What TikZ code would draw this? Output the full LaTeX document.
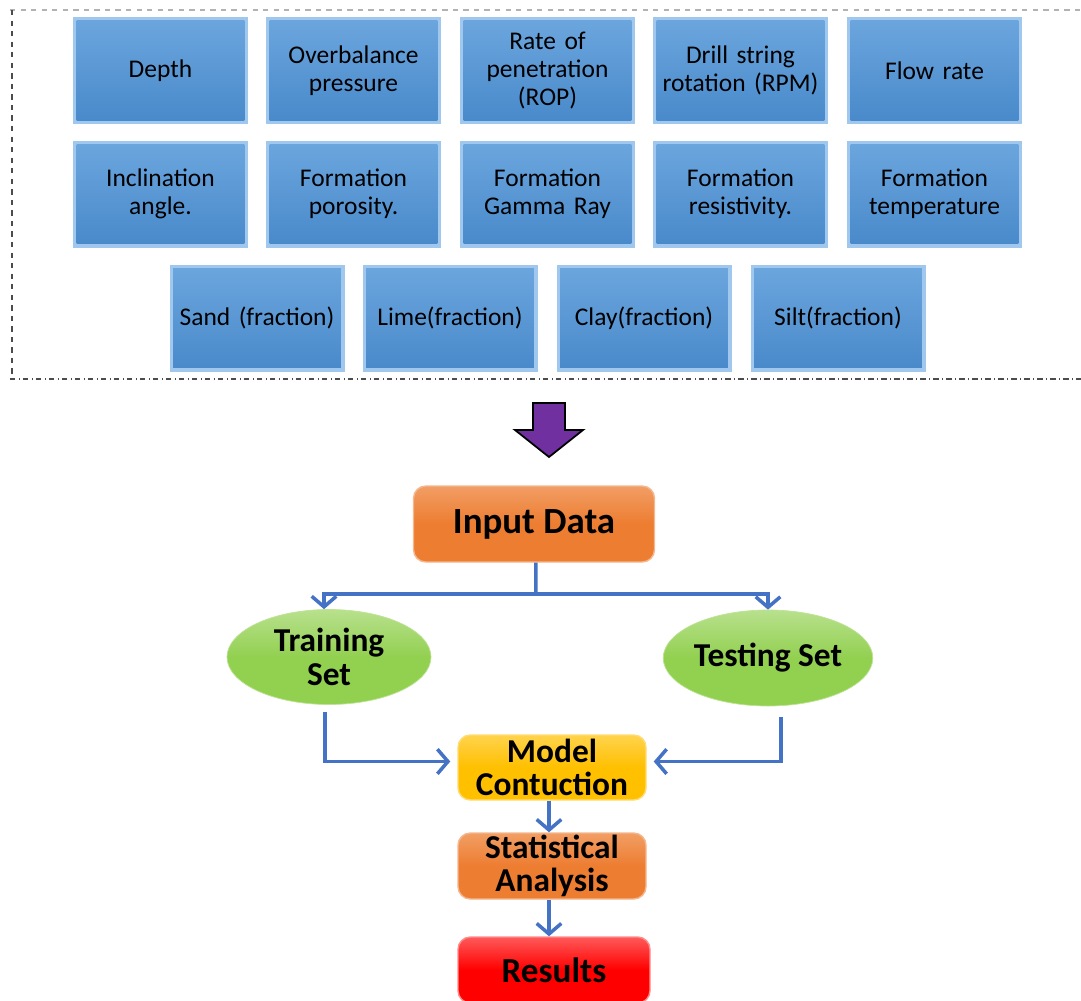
\documentclass[tikz,border=0pt]{standalone}
\usepackage{fontspec}
\setmainfont{Carlito}
\usetikzlibrary{positioning,shapes.geometric,arrows.meta}
\definecolor{paramBlueLight}{RGB}{160,200,238}
\definecolor{paramBlueTop}{RGB}{108,166,222}
\definecolor{paramBlueBot}{RGB}{72,137,202}
\definecolor{flowOrange}{RGB}{237,125,49}
\definecolor{flowYellow}{RGB}{255,192,0}
\definecolor{flowRed}{RGB}{255,0,0}
\definecolor{setGreen}{RGB}{146,208,80}
\definecolor{arrowPurple}{RGB}{112,48,160}
\definecolor{linkBlue}{RGB}{68,114,196}

\tikzset{
  param/.style={rectangle, fill=paramBlueLight, minimum width=3.5cm, minimum height=2.14cm,
    text width=3.45cm, align=center, inner sep=0pt, font=\fontsize{14.5}{16}\selectfont,
    path picture={\shade[top color=paramBlueTop, bottom color=paramBlueBot]
      ([shift={(2pt,-2pt)}]path picture bounding box.north west) rectangle
      ([shift={(-2pt,2pt)}]path picture bounding box.south east);}},
  flowbox/.style={rectangle, rounded corners=7pt, align=center, inner sep=1pt,
    font=\fontsize{19}{19}\selectfont\bfseries, line width=0.8pt},
  setnode/.style={ellipse, inner sep=0pt, align=center, draw=setGreen!60!white,
    top color=setGreen!65!white, bottom color=setGreen, middle color=setGreen,
    font=\fontsize{19}{19}\selectfont\bfseries},
  link/.style={draw=linkBlue, line width=2pt, -{Straight Barb[length=6pt,width=14pt]}}
}

\begin{document}
\begin{tikzpicture}
\useasboundingbox (0,0) rectangle (21.62,-20);

% frame round the input parameters
\draw[gray!60, dashed, line width=0.6pt] (0.2,-0.2) -- (21.62,-0.2);
\draw[black!70, dashed, line width=0.8pt] (0.24,-0.2) -- (0.24,-7.56);
\draw[black!70, dash dot, line width=0.8pt] (0.2,-7.58) -- (21.62,-7.58);

% parameters
\node[param] (depth) at (3.21,-1.41) {Depth};
\node[param] (overb) at (7.07,-1.41) {Overbalance\\pressure};
\node[param] (rop) at (10.95,-1.41) {Rate of\\penetration\\(ROP)};
\node[param] (rpm) at (14.81,-1.41) {Drill string\\rotation (RPM)};
\node[param] (flow) at (18.69,-1.41) {Flow rate};
\node[param] (incl) at (3.21,-3.88) {Inclination\\angle.};
\node[param] (poro) at (7.07,-3.88) {Formation\\porosity.};
\node[param] (gamma) at (10.95,-3.88) {Formation\\Gamma Ray};
\node[param] (resist) at (14.81,-3.88) {Formation\\resistivity.};
\node[param] (temp) at (18.69,-3.88) {Formation\\temperature};
\node[param] (sand) at (5.14,-6.36) {Sand (fraction)};
\node[param] (lime) at (9.00,-6.36) {Lime(fraction)};
\node[param] (clay) at (12.88,-6.36) {Clay(fraction)};
\node[param] (silt) at (16.76,-6.36) {Silt(fraction)};

% big arrow
\filldraw[fill=arrowPurple, draw=black, line width=1pt, line join=miter]
  (10.66,-8.06) -- (11.30,-8.06) -- (11.30,-8.60) -- (11.66,-8.60)
  -- (10.98,-9.14) -- (10.30,-8.60) -- (10.66,-8.60) -- cycle;

% workflow
\node[flowbox, draw=flowOrange!55!white, top color=flowOrange!75!white, bottom color=flowOrange,
  middle color=flowOrange, minimum width=4.82cm, minimum height=1.52cm,
  font=\fontsize{21}{21}\selectfont\bfseries] (input) at (10.68,-10.48) {Input Data};
\node[setnode, minimum width=4.08cm, minimum height=1.9cm] (train) at (6.58,-13.14) {Training\\Set};
\node[setnode, minimum width=4.16cm, minimum height=1.92cm] (test) at (15.36,-13.16) {Testing Set};
\node[flowbox, draw=flowYellow!55!white, top color=flowYellow!70!white, bottom color=flowYellow,
  middle color=flowYellow, minimum width=3.76cm, minimum height=1.3cm] (model) at (11.04,-15.35) {Model\\Contuction};
\node[flowbox, draw=flowOrange!55!white, top color=flowOrange!75!white, bottom color=flowOrange,
  middle color=flowOrange, minimum width=3.76cm, minimum height=1.32cm] (stats) at (11.04,-17.32) {Statistical\\Analysis};
\node[flowbox, draw=flowRed!45!white, top color=flowRed!65!white, bottom color=flowRed,
  middle color=flowRed, minimum width=3.84cm, minimum height=1.32cm,
  font=\fontsize{20}{20}\selectfont\bfseries] (results) at (11.08,-19.4) {Results};

\coordinate (split) at (10.72,-11.88);
\draw[link, -] ([xshift=1pt]input.south) -- (split);
\draw[link] (split) -| ([xshift=-0.1cm]train.north);
\draw[link] (split) -| (test.north);
\draw[link] ([xshift=-0.08cm, yshift=-4pt]train.south) |- ([xshift=-4pt, yshift=0.12cm]model.west);
\draw[link] ([xshift=0.26cm, yshift=-6pt]test.south) |- ([xshift=4pt, yshift=0.12cm]model.east);
\draw[link] ([xshift=-0.06cm]model.south) -- ([xshift=-0.06cm]stats.north);
\draw[link] ([xshift=-0.06cm]stats.south) -- ([xshift=-0.1cm]results.north);
\end{tikzpicture}
\end{document}
